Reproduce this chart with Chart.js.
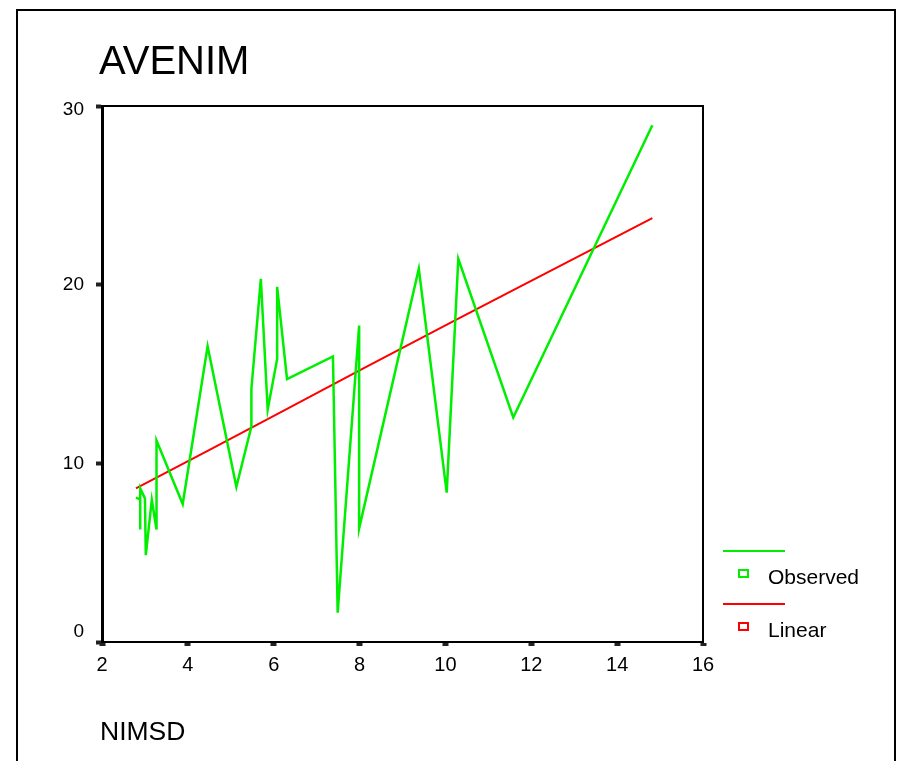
<!DOCTYPE html>
<html>
<head>
<meta charset="utf-8">
<script src="https://cdn.jsdelivr.net/npm/chart.js@4.4.1/dist/chart.umd.min.js"></script>
<style>
  html, body { margin: 0; padding: 0; background: #fff; overflow: hidden; }
  body { width: 897px; height: 761px; position: relative; font-family: "Liberation Sans", Arial, sans-serif; }
  #frame { position: absolute; left: 16px; top: 9px; width: 880px; height: 800px; border: 2px solid #000; box-sizing: border-box; }
  #wrap { position: absolute; left: 0; top: 0; width: 897px; height: 761px; }
  .txt { position: absolute; line-height: 1; color: #000; white-space: nowrap; }
  .lgline { position: absolute; height: 2px; }
  .lgbox { position: absolute; width: 7px; height: 5px; border: 2px solid; }
</style>
</head>
<body>
<div id="frame"></div>
<div id="wrap"><canvas id="chart" width="897" height="761"></canvas></div>

<div class="txt" style="left:99px; top:40px; font-size:40px;">AVENIM</div>
<div class="txt" style="left:100px; top:718px; font-size:26.5px;">NIMSD</div>

<div class="lgline" style="left:723px; top:550px; width:62px; background:#00ee00;"></div>
<div class="lgbox" style="left:738px; top:569px; border-color:#00ee00;"></div>
<div class="txt" style="left:768px; top:566px; font-size:21px;">Observed</div>
<div class="lgline" style="left:723px; top:603px; width:62px; background:#ff0000;"></div>
<div class="lgbox" style="left:738px; top:622px; border-color:#ff0000;"></div>
<div class="txt" style="left:768px; top:619px; font-size:21px;">Linear</div>

<script>
// NIMSD (x) and AVENIM (y), observed values in plotting order
var obsX = [2.79, 2.89, 2.89, 2.89, 3.00, 3.02, 3.16, 3.27, 3.27, 3.88, 4.46, 5.13, 5.48, 5.48,
            5.70, 5.86, 6.08, 6.08, 6.31, 7.38, 7.49, 7.99, 7.99, 9.38, 10.03, 10.30, 11.58, 14.82];
var obsY = [8.08, 7.99, 6.30, 8.60, 8.04, 4.86, 7.95, 6.30, 11.27, 7.72, 16.55, 8.69, 12.06, 14.16,
            20.33, 13.00, 15.84, 19.88, 14.72, 15.98, 1.64, 17.71, 6.36, 20.89, 8.36, 21.45, 12.57, 28.92];

// linear fit values
var fitX = [2.79, 4.46, 6.08, 8.00, 10.30, 11.58, 14.82];
var fitY = [8.60, 10.70, 12.75, 15.20, 18.10, 19.70, 23.72];

var xTicks = [2, 4, 6, 8, 10, 12, 14, 16];
var yTicks = [0, 10, 20, 30];

var colors = {
    observed: '#00ee00',
    linear: '#ff0000',
    axis: '#000',
    tick: '#222'
};
var fontFamily = "'Liberation Sans', Arial, sans-serif";

function pairs(xs, ys) {
    return xs.map(function(x, i) { return { x: x, y: ys[i] }; });
}

// draws the top and right sides of the plot box
var boxPlugin = {
    id: 'box',
    afterDraw: function(chart) {
        var a = chart.chartArea, ctx = chart.ctx;
        ctx.save();
        ctx.strokeStyle = colors.axis;
        ctx.lineWidth = 2;
        ctx.beginPath();
        ctx.moveTo(a.left, a.top);
        ctx.lineTo(a.right, a.top);
        ctx.lineTo(a.right, a.bottom);
        ctx.stroke();
        ctx.restore();
    }
};

// SPSS pulls the end labels of the y axis inward a bit
var yLabelNudge = {
    id: 'yLabelNudge',
    beforeDraw: function(chart) {
        var scale = chart.scales.y;
        var items = scale.getLabelItems(chart.chartArea);
        items.forEach(function(item, i) {
            var v = scale.ticks[i].value;
            if (v === 0) item.options.translation[1] -= 10;
            if (v === 30) item.options.translation[1] += 4;
        });
    }
};

var ctx = document.getElementById('chart').getContext('2d');
new Chart(ctx, {
    type: 'line',
    data: {
        datasets: [{
            label: 'Observed',
            data: pairs(obsX, obsY),
            borderColor: colors.observed,
            borderWidth: 2.5,
            pointRadius: 0,
            fill: false,
            tension: 0
        }, {
            label: 'Linear',
            data: pairs(fitX, fitY),
            borderColor: colors.linear,
            borderWidth: 2,
            pointRadius: 0,
            fill: false,
            tension: 0
        }]
    },
    options: {
        responsive: false,
        animation: false,
        layout: { padding: { left: 0, top: 106, right: 194, bottom: 0 } },
        plugins: {
            legend: { display: false },
            title: { display: false },
            tooltip: { enabled: false }
        },
        scales: {
            x: {
                type: 'linear',
                min: 2,
                max: 16,
                afterBuildTicks: function(scale) {
                    scale.ticks = xTicks.map(function(v) { return { value: v }; });
                },
                afterFit: function(scale) { scale.height = 119; },
                border: { display: true, color: colors.axis, width: 2 },
                grid: { display: true, drawOnChartArea: false, drawTicks: true, tickLength: 4, tickWidth: 6, tickColor: colors.tick },
                ticks: { color: '#000', padding: 7, maxRotation: 0, font: { family: fontFamily, size: 20 } }
            },
            y: {
                type: 'linear',
                min: 0,
                max: 30,
                afterBuildTicks: function(scale) {
                    scale.ticks = yTicks.map(function(v) { return { value: v }; });
                },
                afterFit: function(scale) { scale.width = 102; },
                border: { display: true, color: colors.axis, width: 3 },
                grid: { display: true, drawOnChartArea: false, drawTicks: true, tickLength: 6, tickWidth: 4, tickColor: colors.tick },
                ticks: { color: '#000', padding: 12, font: { family: fontFamily, size: 19 } }
            }
        }
    },
    plugins: [boxPlugin, yLabelNudge]
});
</script>
</body>
</html>
